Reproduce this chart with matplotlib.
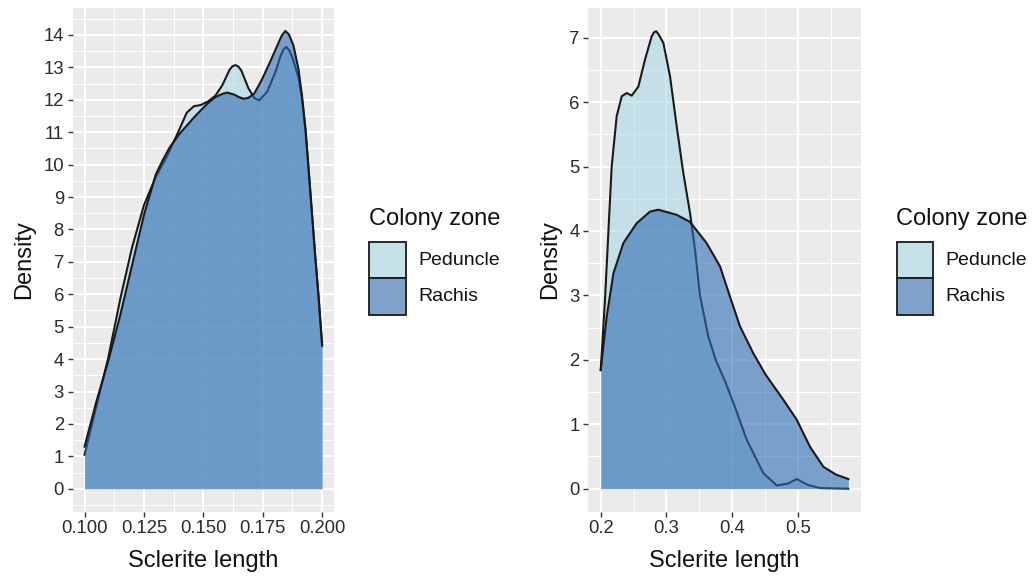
import numpy as np
import matplotlib.pyplot as plt
from matplotlib.patches import Rectangle
from matplotlib.ticker import MultipleLocator, FormatStrFormatter

plt.rcParams['font.family'] = ['Liberation Sans', 'DejaVu Sans']

# colony zone densities
zones = ["Peduncle", "Rachis"]

# left panel
ped_x1 = [0.1000, 0.1050, 0.1100, 0.1150, 0.1200, 0.1250, 0.1300, 0.1350, 0.1400,
          0.1430, 0.1460, 0.1490, 0.1520, 0.1550, 0.1580, 0.1610, 0.1622, 0.1635,
          0.1648, 0.1660, 0.1690, 0.1715, 0.1735, 0.1768, 0.1803, 0.1825, 0.1837,
          0.1849, 0.1862, 0.1875, 0.1900, 0.1915, 0.1930, 0.1943, 0.1957, 0.1971,
          0.1985, 0.2000]
ped_y1 = [1.05, 2.55, 4.05, 5.85, 7.45, 8.75, 9.62, 10.30, 11.10,
          11.60, 11.80, 11.84, 11.95, 12.12, 12.45, 12.92, 13.03, 13.07,
          13.02, 12.90, 12.35, 12.05, 11.98, 12.24, 12.85, 13.35, 13.55,
          13.63, 13.52, 13.30, 12.70, 12.05, 11.05, 9.85, 8.50, 7.15,
          5.90, 4.40]
rac_x1 = [0.1000, 0.1050, 0.1100, 0.1150, 0.1200, 0.1250, 0.1300, 0.1330, 0.1360,
          0.1400, 0.1430, 0.1460, 0.1490, 0.1520, 0.1550, 0.1580, 0.1600, 0.1630,
          0.1650, 0.1670, 0.1690, 0.1715, 0.1745, 0.1780, 0.1810, 0.1830, 0.1845,
          0.1860, 0.1879, 0.1900, 0.1915, 0.1930, 0.1943, 0.1957, 0.1971, 0.1985,
          0.2000]
rac_y1 = [1.30, 2.70, 3.95, 5.35, 6.90, 8.45, 9.70, 10.15, 10.55,
          10.95, 11.20, 11.45, 11.68, 11.90, 12.08, 12.18, 12.22, 12.16,
          12.08, 12.03, 12.06, 12.20, 12.60, 13.15, 13.65, 13.98, 14.12,
          14.02, 13.68, 12.96, 12.14, 11.10, 9.87, 8.53, 7.18, 5.94,
          4.45]

# right panel
ped_x2 = [0.2000, 0.2065, 0.2116, 0.2167, 0.2243, 0.2320, 0.2396, 0.2472, 0.2573,
          0.2674, 0.2776, 0.2810, 0.2842, 0.2875, 0.2953, 0.3055, 0.3157, 0.3257,
          0.3359, 0.3435, 0.3511, 0.3638, 0.3750, 0.3900, 0.4050, 0.4222, 0.4476,
          0.4680, 0.4850, 0.4984, 0.5150, 0.5340, 0.5769]
ped_y2 = [1.84, 2.93, 3.97, 5.00, 5.78, 6.09, 6.14, 6.10, 6.24,
          6.66, 7.02, 7.08, 7.10, 7.06, 6.92, 6.40, 5.62, 4.90,
          4.28, 3.71, 3.00, 2.36, 2.00, 1.65, 1.25, 0.76, 0.24,
          0.05, 0.08, 0.15, 0.06, 0.01, 0.00]
rac_x2 = [0.2000, 0.2091, 0.2193, 0.2344, 0.2548, 0.2750, 0.2877, 0.3157, 0.3359,
          0.3613, 0.3816, 0.3968, 0.4120, 0.4323, 0.4510, 0.4780, 0.4984, 0.5186,
          0.5389, 0.5580, 0.5769]
rac_y2 = [1.84, 2.67, 3.34, 3.81, 4.12, 4.30, 4.33, 4.25, 4.14,
          3.81, 3.45, 2.98, 2.52, 2.10, 1.77, 1.38, 1.07, 0.65,
          0.34, 0.22, 0.15]

PED = "#ADD8E6"
RAC = "#2f6db5"
ALPHA = 0.6
BG = "#EBEBEB"
TXT = "#2b2b2b"
LINE = "#1a1a1a"

W, H = 1035, 576
fig = plt.figure(figsize=(W / 100, H / 100), dpi=100)
ax1 = fig.add_axes([72.7 / W, 1 - 511.7 / H, (334 - 72.7) / W, (511.7 - 8) / H])
ax2 = fig.add_axes([588.3 / W, 1 - 511.7 / H, (861 - 588.3) / W, (511.7 - 8) / H])


def draw(ax, px, py, rx, ry):
    ax.fill_between(px, 0, py, color=PED, alpha=ALPHA, lw=0, zorder=2)
    ax.plot(px, py, color=LINE, lw=1.5, zorder=3)
    ax.fill_between(rx, 0, ry, color=RAC, alpha=ALPHA, lw=0, zorder=4)
    ax.plot(rx, ry, color=LINE, lw=1.5, zorder=5)


def style(ax):
    ax.set_facecolor(BG)
    for s in ax.spines.values():
        s.set_visible(False)
    ax.set_axisbelow(True)
    ax.grid(which="major", color="white", lw=1.4)
    ax.grid(which="minor", color="white", lw=0.7)
    ax.tick_params(which="major", length=3.8, width=1.0, color="#333333",
                   labelsize=13.3, labelcolor=TXT, pad=2.5)
    ax.tick_params(which="minor", length=0)
    ax.set_xlabel("Sclerite length", fontsize=17, color="#111111", labelpad=9)
    ax.set_ylabel("Density", fontsize=17, color="#111111", labelpad=6)


draw(ax1, ped_x1, ped_y1, rac_x1, rac_y1)
style(ax1)
ax1.set_xlim(0.095, 0.205)
ax1.set_ylim(-0.706, 14.83)
ax1.xaxis.set_major_locator(MultipleLocator(0.025))
ax1.xaxis.set_minor_locator(MultipleLocator(0.0125))
ax1.xaxis.set_major_formatter(FormatStrFormatter("%.3f"))
ax1.yaxis.set_major_locator(MultipleLocator(1))
ax1.yaxis.set_minor_locator(MultipleLocator(0.5))

draw(ax2, ped_x2, ped_y2, rac_x2, rac_y2)
style(ax2)
ax2.set_xlim(0.1811, 0.5962)
ax2.set_ylim(-0.357, 7.46)
ax2.xaxis.set_major_locator(MultipleLocator(0.1))
ax2.xaxis.set_minor_locator(MultipleLocator(0.05))
ax2.xaxis.set_major_formatter(FormatStrFormatter("%.1f"))
ax2.yaxis.set_major_locator(MultipleLocator(1))
ax2.yaxis.set_minor_locator(MultipleLocator(0.5))

# legends, drawn by hand so the keys match ggplot's square boxes
key_cols = [(0.776, 0.878, 0.910), (0.498, 0.635, 0.796)]
for x0 in (369.3, 896.5):
    fig.text(x0 / W, 1 - 219 / H, "Colony zone", fontsize=17, color="#111111",
             ha="left", va="center")
    for i, (name, col) in enumerate(zip(zones, key_cols)):
        top = 241.7 + i * 36.7
        fig.add_artist(Rectangle((x0 / W, 1 - (top + 36.7) / H), 36.7 / W, 36.7 / H,
                                 transform=fig.transFigure, facecolor=col,
                                 edgecolor=LINE, lw=1.3))
        fig.text((x0 + 49) / W, 1 - (top + 18.5) / H, name, fontsize=14,
                 color="#111111", ha="left", va="center")

fig.savefig("out.png", dpi=100)
